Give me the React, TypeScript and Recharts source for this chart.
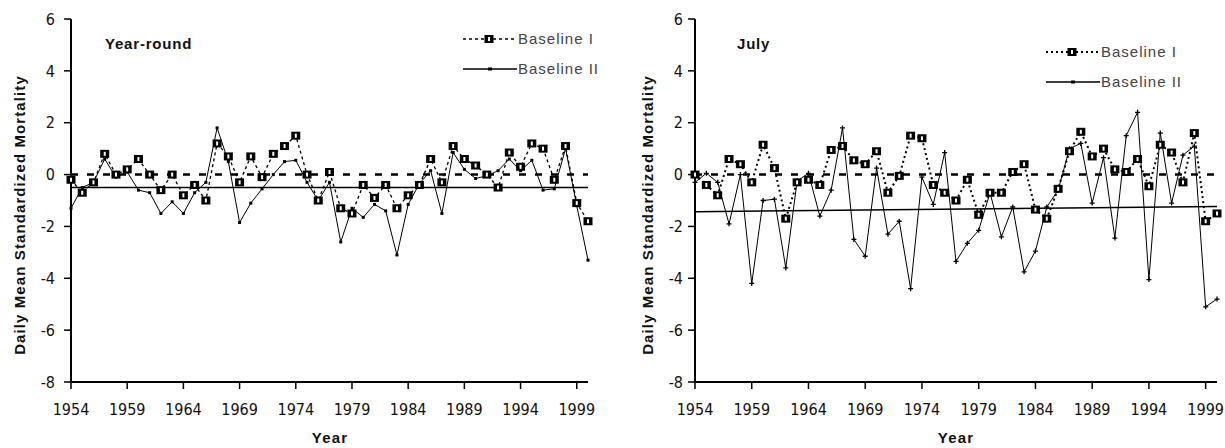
import React from 'react'
import { LineChart, Line, XAxis, YAxis, ReferenceLine } from 'recharts'

// years 1954..2000
const years = [
  1954, 1955, 1956, 1957, 1958, 1959, 1960, 1961, 1962, 1963,
  1964, 1965, 1966, 1967, 1968, 1969, 1970, 1971, 1972, 1973,
  1974, 1975, 1976, 1977, 1978, 1979, 1980, 1981, 1982, 1983,
  1984, 1985, 1986, 1987, 1988, 1989, 1990, 1991, 1992, 1993,
  1994, 1995, 1996, 1997, 1998, 1999, 2000,
]

const yearRoundBaseline1 = [
  -0.2, -0.7, -0.3, 0.8, 0.0, 0.2, 0.6, 0.0, -0.6, 0.0,
  -0.8, -0.4, -1.0, 1.2, 0.7, -0.3, 0.7, -0.1, 0.8, 1.1,
  1.5, 0.0, -1.0, 0.1, -1.3, -1.5, -0.4, -0.9, -0.4, -1.3,
  -0.8, -0.4, 0.6, -0.3, 1.1, 0.6, 0.35, 0.0, -0.5, 0.85,
  0.3, 1.2, 1.0, -0.2, 1.1, -1.1, -1.8,
]

const yearRoundBaseline2 = [
  -1.3, -0.5, -0.3, 0.6, -0.1, 0.1, -0.6, -0.7, -1.5, -1.05,
  -1.5, -0.7, -0.3, 1.8, 0.5, -1.85, -1.1, -0.55, 0.0, 0.5,
  0.55, -0.3, -1.0, -0.3, -2.6, -1.3, -1.65, -1.15, -1.4, -3.1,
  -1.15, -0.35, 0.15, -1.5, 0.85, 0.2, -0.15, -0.05, 0.15, 0.6,
  0.15, 0.55, -0.6, -0.55, 1.0, -1.2, -3.3,
]

const julyBaseline1 = [
  0.0, -0.4, -0.8, 0.6, 0.4, -0.3, 1.15, 0.25, -1.7, -0.3,
  -0.2, -0.4, 0.95, 1.1, 0.55, 0.4, 0.9, -0.7, -0.05, 1.5,
  1.4, -0.4, -0.7, -1.0, -0.2, -1.55, -0.7, -0.7, 0.1, 0.4,
  -1.35, -1.7, -0.55, 0.9, 1.65, 0.7, 1.0, 0.2, 0.1, 0.6,
  -0.45, 1.15, 0.85, -0.3, 1.6, -1.8, -1.5,
]

const julyBaseline2 = [
  -0.3, 0.05, -0.3, -1.9, 0.0, -4.2, -1.0, -0.95, -3.6, -0.25,
  0.05, -1.6, -0.6, 1.8, -2.5, -3.15, 0.25, -2.3, -1.8, -4.4,
  -0.1, -1.15, 0.85, -3.35, -2.65, -2.15, -0.7, -2.4, -1.25, -3.75,
  -2.95, -1.25, -0.6, 1.0, 1.2, -1.1, 0.65, -2.45, 1.5, 2.4,
  -4.05, 1.6, -1.1, 0.75, 1.1, -5.1, -4.8,
]

const xTicks = [1954, 1959, 1964, 1969, 1974, 1979, 1984, 1989, 1994, 1999]
const yTicks = [-8, -6, -4, -2, 0, 2, 4, 6]
const yearRoundLevel = -0.5
const julyTrend = [{ x: 1954, y: -1.43 }, { x: 2000, y: -1.23 }]

const NARROW = '"Liberation Sans Narrow", "DejaVu Sans Condensed", "Arial Narrow", sans-serif'
const SANS = '"Liberation Sans", Arial, Helvetica, sans-serif'

const SquareDot = (props: any) => {
  const { cx, cy, index } = props
  if (cx == null || cy == null) return null
  return (
    <g key={`sq-${index}`}>
      <rect x={cx - 4.5} y={cy - 4} width={9} height={8} fill="#000" />
      <rect x={cx - 1} y={cy - 2} width={2} height={4} fill="#fff" />
    </g>
  )
}

const SmallDot = (props: any) => {
  const { cx, cy, index } = props
  if (cx == null || cy == null) return null
  return <rect key={`sd-${index}`} x={cx - 1.5} y={cy - 1.5} width={3} height={3} fill="#000" />
}

const PlusDot = (props: any) => {
  const { cx, cy, index } = props
  if (cx == null || cy == null) return null
  return (
    <path
      key={`pd-${index}`}
      d={`M${cx - 2.5},${cy} h5 M${cx},${cy - 2.5} v5`}
      stroke="#000"
      strokeWidth={1.3}
    />
  )
}

const LegendRow = ({ x, y, dash, width, dot, label }: any) => (
  <div style={{ position: 'absolute', left: x, top: y - 8, height: 16, display: 'flex', alignItems: 'center' }}>
    <svg width={54} height={16}>
      <line x1={0} y1={8} x2={54} y2={8} stroke="#000" strokeWidth={width} strokeDasharray={dash} />
      {dot === 'square' ? (
        <g>
          <rect x={21.5} y={4} width={9} height={8} fill="#000" />
          <rect x={25} y={6} width={2} height={4} fill="#fff" />
        </g>
      ) : (
        <rect x={25} y={6.5} width={4} height={3} fill="#000" />
      )}
    </svg>
    <span style={{ fontFamily: SANS, fontSize: 15, letterSpacing: 1, color: '#444', marginLeft: 1, lineHeight: '16px' }}>
      {label}
    </span>
  </div>
)

function Panel({
  left, width, yAxisWidth, marginRight, tickGap, b1, b2, b1Dash, b1Width, b2Dot,
  title, titleX, legendX, legendY, yTitleX, yearX, level, trend,
}: any) {
  const data = years.map((year, i) => ({ year, b1: b1[i], b2: b2[i] }))
  const tickStyle = { fontFamily: NARROW, fontSize: 16, fill: '#111' }
  return (
    <div style={{ position: 'absolute', left, top: 0, width, height: 448 }}>
      <LineChart
        width={width}
        height={448}
        data={data}
        margin={{ top: 19, right: marginRight, bottom: 0, left: 0 }}
      >
        <XAxis
          type="number"
          dataKey="year"
          domain={[1954, 2000]}
          ticks={xTicks}
          interval={0}
          height={66}
          tickSize={7}
          tickMargin={15}
          tick={tickStyle}
          axisLine={{ stroke: '#000', strokeWidth: 2 }}
          tickLine={{ stroke: '#000', strokeWidth: 1.5 }}
        />
        <YAxis
          type="number"
          domain={[-8, 6]}
          ticks={yTicks}
          interval={0}
          width={yAxisWidth}
          tickSize={7}
          tickMargin={tickGap}
          tick={tickStyle}
          axisLine={{ stroke: '#000', strokeWidth: 2 }}
          tickLine={{ stroke: '#000', strokeWidth: 1.5 }}
        />
        <ReferenceLine y={0} stroke="#000" strokeWidth={2.5} strokeDasharray="7 9" />
        {level != null && <ReferenceLine y={level} stroke="#000" strokeWidth={1.5} />}
        {trend && <ReferenceLine segment={trend} stroke="#000" strokeWidth={1.5} />}
        <Line
          type="linear"
          dataKey="b2"
          stroke="#000"
          strokeWidth={1}
          dot={b2Dot}
          activeDot={false}
          isAnimationActive={false}
        />
        <Line
          type="linear"
          dataKey="b1"
          stroke="#000"
          strokeWidth={b1Width}
          strokeDasharray={b1Dash}
          dot={SquareDot}
          activeDot={false}
          isAnimationActive={false}
        />
      </LineChart>

      <div style={{ position: 'absolute', left: titleX, top: 36, fontFamily: SANS, fontWeight: 'bold', fontSize: 15, letterSpacing: 0.8, color: '#111', lineHeight: '16px' }}>
        {title}
      </div>

      <LegendRow x={legendX} y={legendY} dash={b1Dash} width={b1Width} dot="square" label="Baseline I" />
      <LegendRow x={legendX} y={legendY + 30} dash={undefined} width={1.5} dot="small" label="Baseline II" />

      <div
        style={{
          position: 'absolute', left: yTitleX - 160, top: 215 - 9, width: 320, height: 18,
          textAlign: 'center', transform: 'rotate(-90deg)', transformOrigin: '50% 50%',
          fontFamily: SANS, fontWeight: 'bold', fontSize: 15, letterSpacing: 1.1, color: '#111', lineHeight: '18px',
          whiteSpace: 'nowrap',
        }}
      >
        Daily Mean Standardized Mortality
      </div>

      <div
        style={{
          position: 'absolute', left: yearX - 50, top: 430, width: 100, textAlign: 'center',
          fontFamily: SANS, fontWeight: 'bold', fontSize: 15, letterSpacing: 1.2, color: '#111', lineHeight: '16px',
        }}
      >
        Year
      </div>
    </div>
  )
}

export default function App() {
  return (
    <div style={{ position: 'absolute', left: 0, top: 0, width: 1225, height: 448, background: '#fff', overflow: 'hidden' }}>
      <Panel
        left={0}
        width={612}
        yAxisWidth={71}
        marginRight={24}
        tickGap={9}
        b1={yearRoundBaseline1}
        b2={yearRoundBaseline2}
        b1Dash="3 3"
        b1Width={1.3}
        b2Dot={SmallDot}
        title="Year-round"
        titleX={105}
        legendX={463}
        legendY={39}
        yTitleX={20}
        yearX={330}
        level={yearRoundLevel}
      />
      <Panel
        left={612}
        width={613}
        yAxisWidth={83}
        marginRight={8}
        tickGap={5}
        b1={julyBaseline1}
        b2={julyBaseline2}
        b1Dash="2 3"
        b1Width={2}
        b2Dot={PlusDot}
        title="July"
        titleX={125}
        legendX={434}
        legendY={52}
        yTitleX={36}
        yearX={344}
        trend={julyTrend}
      />
    </div>
  )
}
